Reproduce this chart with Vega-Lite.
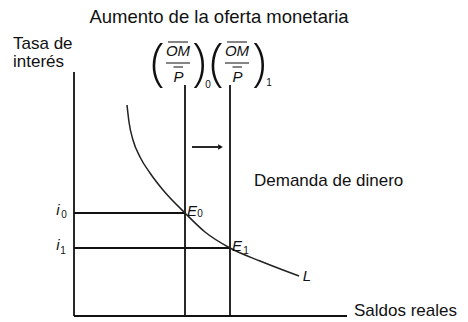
{
  "$schema": "https://vega.github.io/schema/vega-lite/v6.json",
  "width": 468,
  "height": 322,
  "autosize": {"type": "fit", "contains": "padding"},
  "padding": 0,
  "background": "white",
  "config": {"view": {"stroke": null}},
  "datasets": {
    "lines": [
      {"x": 0, "y": 0, "x2": 0, "y2": 97.6},
      {"x": 0, "y": 0, "x2": 109.2, "y2": 0},
      {"x": 44.4, "y": 0, "x2": 44.4, "y2": 92.4},
      {"x": 62.4, "y": 0, "x2": 62.4, "y2": 92.4},
      {"x": 0, "y": 41.2, "x2": 44.4, "y2": 41.2},
      {"x": 0, "y": 27.2, "x2": 62.4, "y2": 27.2},
      {"x": 47.2, "y": 67.6, "x2": 57.6, "y2": 67.6}
    ],
    "thin": [
      {"x": 37.6, "y": 109.6, "x2": 45.6, "y2": 109.6},
      {"x": 36.8, "y": 101.2, "x2": 46.4, "y2": 101.2},
      {"x": 39.8, "y": 99.6, "x2": 43.6, "y2": 99.6},
      {"x": 61.2, "y": 109.6, "x2": 69.2, "y2": 109.6},
      {"x": 60.4, "y": 101.2, "x2": 70.0, "y2": 101.2},
      {"x": 63.4, "y": 99.6, "x2": 67.2, "y2": 99.6}
    ],
    "curve": [
      {"x": 21.2, "y": 84.4},
      {"x": 22.0, "y": 77.6},
      {"x": 23.6, "y": 70.4},
      {"x": 26.4, "y": 63.6},
      {"x": 30.4, "y": 57.2},
      {"x": 35.6, "y": 50.4},
      {"x": 44.4, "y": 41.2},
      {"x": 52.4, "y": 33.6},
      {"x": 62.4, "y": 27.2},
      {"x": 74.4, "y": 22.0},
      {"x": 83.6, "y": 18.4},
      {"x": 90.0, "y": 16.0}
    ],
    "arrow": [{"x": 58.6, "y": 67.6}],
    "title": [{"x": 58, "y": 119.6, "t": "Aumento de la oferta monetaria"}],
    "left": [
      {"x": -24.4, "y": 108.8, "t": "Tasa de"},
      {"x": -24.4, "y": 101.8, "t": "interés"},
      {"x": 72.0, "y": 54, "t": "Demanda de dinero"},
      {"x": 112.0, "y": 2, "t": "Saldos reales"}
    ],
    "italic": [
      {"x": 41.6, "y": 106, "t": "OM"},
      {"x": 65.2, "y": 106, "t": "OM"},
      {"x": 41.8, "y": 95.6, "t": "P"},
      {"x": 65.4, "y": 95.6, "t": "P"},
      {"x": 47.2, "y": 42, "t": "E"},
      {"x": 65.2, "y": 28, "t": "E"},
      {"x": 93.2, "y": 16, "t": "L"},
      {"x": -6.4, "y": 42.4, "t": "i"},
      {"x": -6.4, "y": 28.4, "t": "i"}
    ],
    "subs": [
      {"x": 53.6, "y": 92.4, "t": "0"},
      {"x": 78.0, "y": 93.2, "t": "1"},
      {"x": 50.4, "y": 40.8, "t": "0"},
      {"x": 68.8, "y": 26, "t": "1"},
      {"x": -4, "y": 40.4, "t": "0"},
      {"x": -4.4, "y": 26, "t": "1"}
    ],
    "parens": [
      {"x": 33.4, "y": 101.0, "t": "("},
      {"x": 50.0, "y": 101.0, "t": ")"},
      {"x": 57.0, "y": 101.0, "t": "("},
      {"x": 74.0, "y": 101.0, "t": ")"}
    ]
  },
  "encoding": {
    "x": {"field": "x", "type": "quantitative", "scale": {"domain": [-29.6, 157.6], "nice": false, "zero": false}, "axis": null},
    "y": {"field": "y", "type": "quantitative", "scale": {"domain": [-2.4, 126.4], "nice": false, "zero": false}, "axis": null}
  },
  "layer": [
    {
      "data": {"name": "lines"},
      "mark": {"type": "rule", "color": "#111111", "strokeWidth": 1.8},
      "encoding": {"x2": {"field": "x2"}, "y2": {"field": "y2"}}
    },
    {
      "data": {"name": "thin"},
      "mark": {"type": "rule", "color": "#222222", "strokeWidth": 1.1},
      "encoding": {"x2": {"field": "x2"}, "y2": {"field": "y2"}}
    },
    {
      "data": {"name": "curve"},
      "mark": {"type": "line", "color": "#222222", "strokeWidth": 1.5, "interpolate": "monotone"},
      "encoding": {"order": {"field": "x", "type": "quantitative"}}
    },
    {
      "data": {"name": "arrow"},
      "mark": {"type": "point", "shape": "triangle-right", "filled": true, "color": "#111111", "size": 30, "opacity": 1},
      "encoding": {}
    },
    {
      "data": {"name": "title"},
      "mark": {"type": "text", "font": "Liberation Sans", "fontSize": 18.5, "align": "center", "baseline": "middle", "color": "#111111"},
      "encoding": {"text": {"field": "t"}}
    },
    {
      "data": {"name": "left"},
      "mark": {"type": "text", "font": "Liberation Sans", "fontSize": 17, "align": "left", "baseline": "middle", "color": "#111111"},
      "encoding": {"text": {"field": "t"}}
    },
    {
      "data": {"name": "italic"},
      "mark": {"type": "text", "font": "Liberation Sans", "fontSize": 15, "fontStyle": "italic", "align": "center", "baseline": "middle", "color": "#111111"},
      "encoding": {"text": {"field": "t"}}
    },
    {
      "data": {"name": "subs"},
      "mark": {"type": "text", "font": "Liberation Sans", "fontSize": 10, "align": "center", "baseline": "middle", "color": "#111111"},
      "encoding": {"text": {"field": "t"}}
    },
    {
      "data": {"name": "parens"},
      "mark": {"type": "text", "font": "Open Sans", "fontWeight": 300, "fontSize": 52, "align": "center", "baseline": "middle", "color": "#111111"},
      "encoding": {"text": {"field": "t"}}
    }
  ]
}
